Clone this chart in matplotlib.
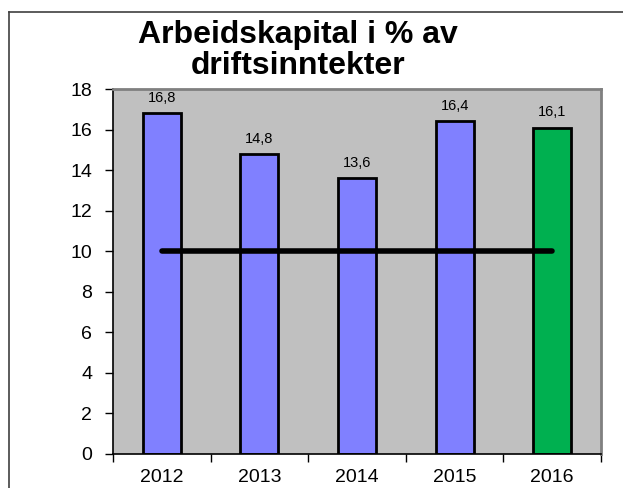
import matplotlib

matplotlib.use("Agg")
import matplotlib.pyplot as plt  # noqa: E402
from matplotlib.lines import Line2D  # noqa: E402

plt.rcParams["font.family"] = ["Liberation Sans", "DejaVu Sans"]

# data
years = ["2012", "2013", "2014", "2015", "2016"]
values = [16.8, 14.8, 13.6, 16.4, 16.1]
target = [10, 10, 10, 10, 10]
bar_colors = ["#8080FF", "#8080FF", "#8080FF", "#8080FF", "#00B050"]
yticks = [0, 2, 4, 6, 8, 10, 12, 14, 16, 18]

W, H = 623, 488
fig = plt.figure(figsize=(W / 100, H / 100), dpi=100)

# outer chart frame (left + top edges only visible)
fig.add_artist(Line2D([9 / W, 9 / W], [0, 1 - 12 / H], color="#404040", lw=1.2))
fig.add_artist(Line2D([9 / W, 1], [1 - 12 / H, 1 - 12 / H], color="#404040", lw=1.2))

ax = fig.add_axes([113 / W, 1 - 454 / H, (601 - 113) / W, (454 - 89) / H])
ax.set_facecolor("#C0C0C0")

x = list(range(len(years)))
bars = ax.bar(x, values, width=0.39, color=bar_colors, edgecolor="black", linewidth=2, zorder=2)
ax.plot(x, target, color="black", lw=4, solid_capstyle="round", zorder=3)

for b, v in zip(bars, values):
    ax.annotate(f"{v:.1f}".replace(".", ","), (b.get_x() + b.get_width() / 2, v),
                xytext=(0, 6), textcoords="offset points", ha="center", va="bottom",
                fontsize=10.5)

ax.set_xlim(-0.5, len(years) - 0.5)
ax.set_ylim(0, 18)
ax.set_yticks(yticks)
ax.set_xticks(x)
ax.set_xticklabels(years)
ax.set_xticks([i - 0.5 for i in range(len(years) + 1)], minor=True)
ax.tick_params(axis="x", which="major", length=0, labelsize=14, pad=11)
ax.tick_params(axis="x", which="minor", length=6, width=1, direction="out")
ax.tick_params(axis="y", length=6, width=1, direction="out", labelsize=14, pad=9)

for s in ["left", "bottom"]:
    ax.spines[s].set_color("black")
    ax.spines[s].set_linewidth(1.2)
for s in ["top", "right"]:
    ax.spines[s].set_color("#808080")
    ax.spines[s].set_linewidth(2)

fig.text(298 / W, 1 - 20 / H, "Arbeidskapital i % av\ndriftsinntekter", ha="center", va="top",
         fontsize=23, fontweight="bold", linespacing=1.05)

fig.savefig("out.png", dpi=100)
